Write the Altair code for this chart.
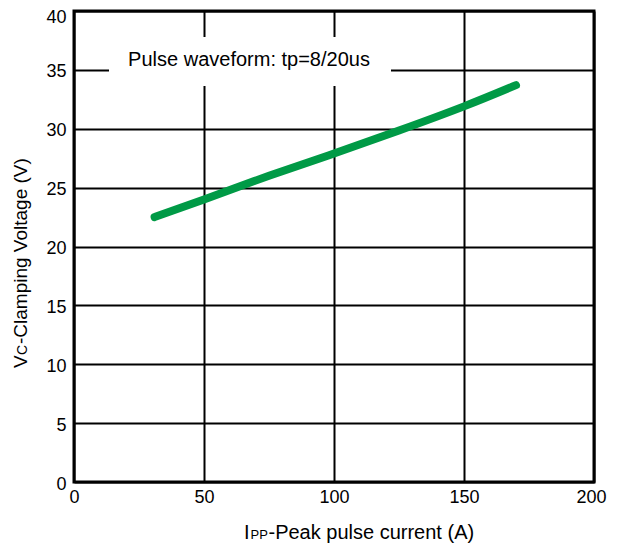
import altair as alt
import pandas as pd

# Data
current = [31, 50, 75, 100, 125, 150, 170]
voltage = [22.5, 24.0, 26.0, 27.9, 29.85, 31.9, 33.7]
x_ticks = [0, 50, 100, 150, 200]
y_ticks = [0, 5, 10, 15, 20, 25, 30, 35, 40]
annotation = "Pulse waveform: tp=8/20us"

df = pd.DataFrame({"current": current, "voltage": voltage})
one = pd.DataFrame({"k": [0]})
FONT = "Liberation Sans"

line = alt.Chart(df).mark_line(
    color="#009A46", strokeWidth=8, strokeCap="round", interpolate="natural"
).encode(
    x=alt.X("current:Q", scale=alt.Scale(domain=[0, 200], nice=False),
            axis=alt.Axis(values=x_ticks, title=None, grid=True, domain=False, ticks=False,
                          labelFlush=False, labelPadding=6, labelFontSize=18, labelFont=FONT,
                          labelColor="black", gridColor="black", gridWidth=2, gridOpacity=1,
                          labelOffset={"condition": {"test": "datum.value == 200", "value": -3}, "value": 0})),
    y=alt.Y("voltage:Q", scale=alt.Scale(domain=[0, 40], nice=False),
            axis=alt.Axis(values=y_ticks, title=None, grid=True, domain=False, ticks=False,
                          labelFlush=False, labelPadding=8, labelFontSize=18, labelFont=FONT,
                          labelColor="black", gridColor="black", gridWidth=2, gridOpacity=1,
                          labelOffset={"condition": {"test": "datum.value == 40", "value": 6}, "value": 2})),
)

box = alt.Chart(one).mark_rect(color="white").encode(
    x=alt.value(35), x2=alt.value(317), y=alt.value(26), y2=alt.value(75)
)
note = alt.Chart(one).mark_text(
    text=annotation, fontSize=20, font=FONT, align="center", baseline="alphabetic", color="black"
).encode(x=alt.value(175), y=alt.value(55))

def txt(s, size, x, y, angle=0):
    m = alt.Chart(one).mark_text(text=s, fontSize=size, font=FONT, align="left",
                                 baseline="alphabetic", color="black", angle=angle)
    return m.encode(x=alt.value(x), y=alt.value(y))

xt = [txt("I", 20, 170, 528), txt("PP", 13, 176.5, 528), txt("-Peak pulse current (A)", 20, 194.5, 528)]
yt = [txt("V", 19, -47, 357, 270), txt("C", 14, -47, 344, 270),
      txt("-Clamping Voltage (V)", 19, -47, 333, 270)]

chart = alt.layer(box, line, note, *xt, *yt).properties(
    width=520, height=471,
    autosize=alt.AutoSizeParams(type="none"),
    padding={"left": 66, "top": 3, "right": 15, "bottom": 61},
).configure_view(stroke="black", strokeWidth=3)

chart.save("out.html", embed_options={"renderer": "svg", "actions": False})
